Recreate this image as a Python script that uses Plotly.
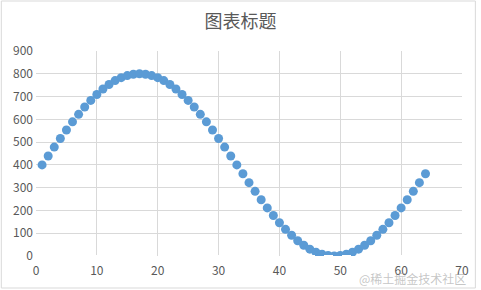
import plotly.graph_objects as go

x_vals = list(range(1, 65))
y_vals = [400, 439, 478, 516, 553, 589, 622, 654, 683, 709, 733, 753, 770, 783, 792, 798,
          800, 798, 792, 783, 770, 753, 733, 709, 683, 654, 622, 589, 553, 516, 478, 439,
          400, 361, 322, 284, 247, 211, 178, 146, 117, 91, 67, 47, 30, 17, 8, 2,
          0, 2, 8, 17, 30, 47, 67, 91, 117, 146, 178, 211, 247, 284, 322, 361]
title_text = "图表标题"
watermark = "@稀土掘金技术社区"

W, H = 481, 290
L, R, T, B = 36, 15, 51, 34
pw, ph = W - L - R, H - T - B

def px(xp):
    return (xp - L) / pw

def py(yp):
    return (H - B - yp) / ph

fig = go.Figure()
fig.add_trace(go.Scatter(
    x=x_vals, y=y_vals, mode="markers",
    marker=dict(color="#5B9BD5", size=9, line=dict(width=0)),
    hoverinfo="skip",
))

font_family = "Noto Sans CJK SC, Noto Sans, sans-serif"
fig.update_layout(
    width=W, height=H,
    margin=dict(l=L, r=R, t=T, b=B),
    paper_bgcolor="white", plot_bgcolor="white",
    showlegend=False,
    font=dict(family=font_family, color="#595959", size=12),
    title=dict(text=title_text, x=0.5, xanchor="center", y=1 - 22 / H, yanchor="middle",
               font=dict(size=18, color="#595959", family=font_family)),
    xaxis=dict(range=[0, 70], dtick=10, tick0=0, showgrid=True, gridcolor="#d9d9d9",
               gridwidth=1, zeroline=False, showline=False, ticks="",
               ticklabelstandoff=6,
               tickfont=dict(size=12, color="#595959")),
    yaxis=dict(range=[0, 900], dtick=100, tick0=0, showgrid=True, gridcolor="#d9d9d9",
               gridwidth=1, zeroline=False, showline=False, ticks="",
               ticklabelstandoff=2,
               tickfont=dict(size=12, color="#595959")),
    shapes=[
        dict(type="rect", xref="paper", yref="paper",
             x0=px(1), x1=px(479.5), y0=py(288), y1=py(1),
             line=dict(color="#d9d9d9", width=1), fillcolor="rgba(0,0,0,0)", layer="below"),
        dict(type="line", xref="x", yref="y", x0=0, x1=70, y0=0, y1=0,
             line=dict(color="white", width=2, dash="dash"), layer="above"),
    ],
    annotations=[
        dict(text=watermark, xref="paper", yref="paper", x=px(472), y=py(278),
             xanchor="right", yanchor="middle", showarrow=False,
             font=dict(size=12, color="rgba(160,160,160,0.6)", family=font_family)),
    ],
)

fig.write_html("out.html")
